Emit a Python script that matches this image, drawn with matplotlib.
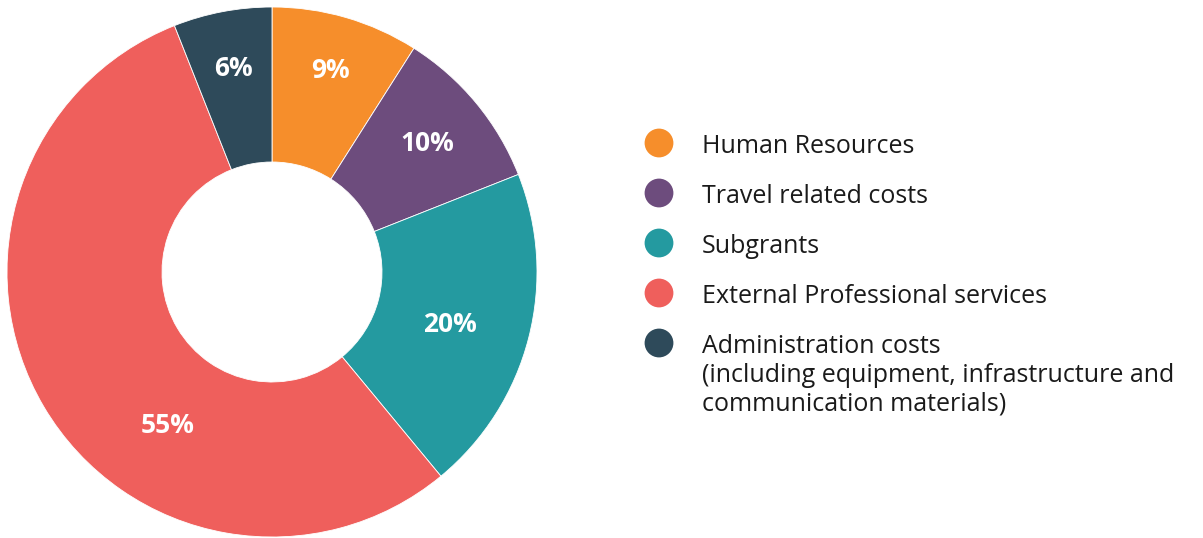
import numpy as np
import matplotlib.pyplot as plt

categorias = ["Human Resources", "Travel related costs", "Subgrants",
              "External Professional services",
              "Administration costs\n(including equipment, infrastructure and\ncommunication materials)"]
valores = [9, 10, 20, 55, 6]
colores = ["#F68E2B", "#6D4C7D", "#249AA0", "#EF5F5C", "#2E4A5A"]
etiquetas = ["9%", "10%", "20%", "55%", "6%"]
# colocación de cada etiqueta: corrimiento angular (grados) y radio relativo
desvio_etiqueta = [0, 0, -2, 25, 0]
radio_etiqueta = [0.79, 0.76, 0.70, 0.70, 0.78]

W, H = 1203, 538
fig = plt.figure(figsize=(W / 100, H / 100), dpi=100)
fuente = "Open Sans"

# --- dona ---
R = 265
cx, cy = 272, 272
ax = fig.add_axes([(cx - R) / W, (H - cy - R) / H, 2 * R / W, 2 * R / H])
wedges, _ = ax.pie(valores, colors=colores, startangle=90, counterclock=False,
                   radius=1, wedgeprops=dict(width=1 - 110 / R, edgecolor="white", linewidth=0.6))
ax.set_xlim(-1, 1)
ax.set_ylim(-1, 1)
ax.set_aspect("equal")

for w, txt, d, r in zip(wedges, etiquetas, desvio_etiqueta, radio_etiqueta):
    ang = np.deg2rad((w.theta1 + w.theta2) / 2 + d)
    ax.text(r * np.cos(ang), r * np.sin(ang), txt, ha="center", va="center",
            color="white", fontsize=19, fontweight="bold", family=fuente)

# --- leyenda ---
lax = fig.add_axes([0, 0, 1, 1])
lax.set_xlim(0, W)
lax.set_ylim(H, 0)
lax.axis("off")
y0, paso = 143, 50
for i, (cat, col) in enumerate(zip(categorias, colores)):
    y = y0 + i * paso
    lax.scatter([659], [y], s=430, color=col, edgecolors="none")
    lax.text(702, y - 9, cat, ha="left", va="top", fontsize=18, color="#1a1a1a",
             family=fuente, linespacing=1.21)

fig.savefig("out.png", dpi=100)
